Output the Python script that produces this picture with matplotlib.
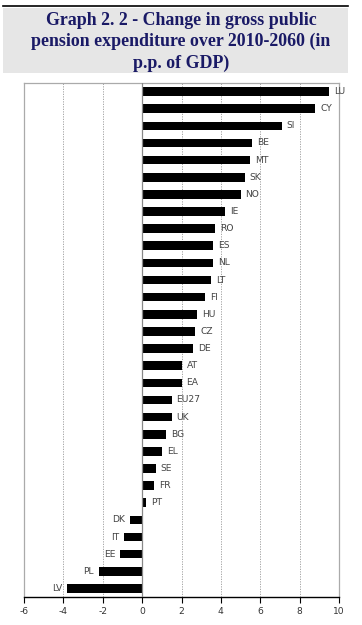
import matplotlib
matplotlib.use("Agg")
import matplotlib.pyplot as plt
from matplotlib.patches import Rectangle

# countries, top to bottom
countries = ["LU", "CY", "SI", "BE", "MT", "SK", "NO", "IE", "RO", "ES",
             "NL", "LT", "FI", "HU", "CZ", "DE", "AT", "EA", "EU27", "UK",
             "BG", "EL", "SE", "FR", "PT", "DK", "IT", "EE", "PL", "LV"]
# change in p.p. of GDP, 2010-2060
change = [9.5, 8.8, 7.1, 5.6, 5.5, 5.2, 5.0, 4.2, 3.7, 3.6,
          3.6, 3.5, 3.2, 2.8, 2.7, 2.6, 2.0, 2.0, 1.5, 1.5,
          1.2, 1.0, 0.7, 0.6, 0.2, -0.6, -0.9, -1.1, -2.2, -3.8]
xticks = [-6, -4, -2, 0, 2, 4, 6, 8, 10]

title = "Graph 2. 2 - Change in gross public\npension expenditure over 2010-2060 (in\np.p. of GDP)"

fig = plt.figure(figsize=(3.62, 6.25), dpi=100)

# title box
fig.patches.append(Rectangle((3 / 362, 1 - 73 / 625), 345 / 362, 65 / 625,
                             transform=fig.transFigure, facecolor="#e6e6e6",
                             edgecolor="none", zorder=0))
fig.add_artist(plt.Line2D([3 / 362, 348 / 362], [1 - 6 / 625, 1 - 6 / 625],
                          transform=fig.transFigure, color="black", lw=1.2))
fig.text(181 / 362, 1 - 42 / 625, title, ha="center", va="center",
         family=["Liberation Serif", "DejaVu Serif"], fontweight="bold",
         fontsize=12.9, color="#1a1a66", linespacing=1.3)

ax = fig.add_axes([24 / 362, 1 - 597 / 625, 315 / 362, 514 / 625])
y = list(range(len(countries)))
ax.barh(y, change, height=0.5, color="black", zorder=3)

lab_font = ["Liberation Sans Narrow", "DejaVu Sans"]
for yi, c, v in zip(y, countries, change):
    if v >= 0:
        ax.text(v + 0.25, yi, c, ha="left", va="center", fontsize=6.6,
                color="#444444", family=lab_font)
    else:
        ax.text(v - 0.25, yi, c, ha="right", va="center", fontsize=6.6,
                color="#444444", family=lab_font)

ax.set_xlim(-6, 10)
ax.set_ylim(len(countries) - 0.5, -0.5)
ax.set_xticks(xticks)
ax.set_xticklabels([str(t) for t in xticks], fontsize=6.6, color="#333333",
                   family=lab_font)
ax.set_yticks([])
for t in xticks[1:-1]:
    if t == 0:
        ax.axvline(t, color="#888888", lw=0.9, zorder=4)
    else:
        ax.axvline(t, color="#999999", lw=0.6, ls=(0, (1.5, 1.5)), zorder=1)

for s in ["left", "right", "top"]:
    ax.spines[s].set_color("#aaaaaa")
    ax.spines[s].set_linewidth(0.9)
ax.spines["bottom"].set_color("black")
ax.spines["bottom"].set_linewidth(1.0)
ax.tick_params(axis="x", length=4, width=0.8, direction="out", pad=3)

fig.savefig("out.png", dpi=100)
